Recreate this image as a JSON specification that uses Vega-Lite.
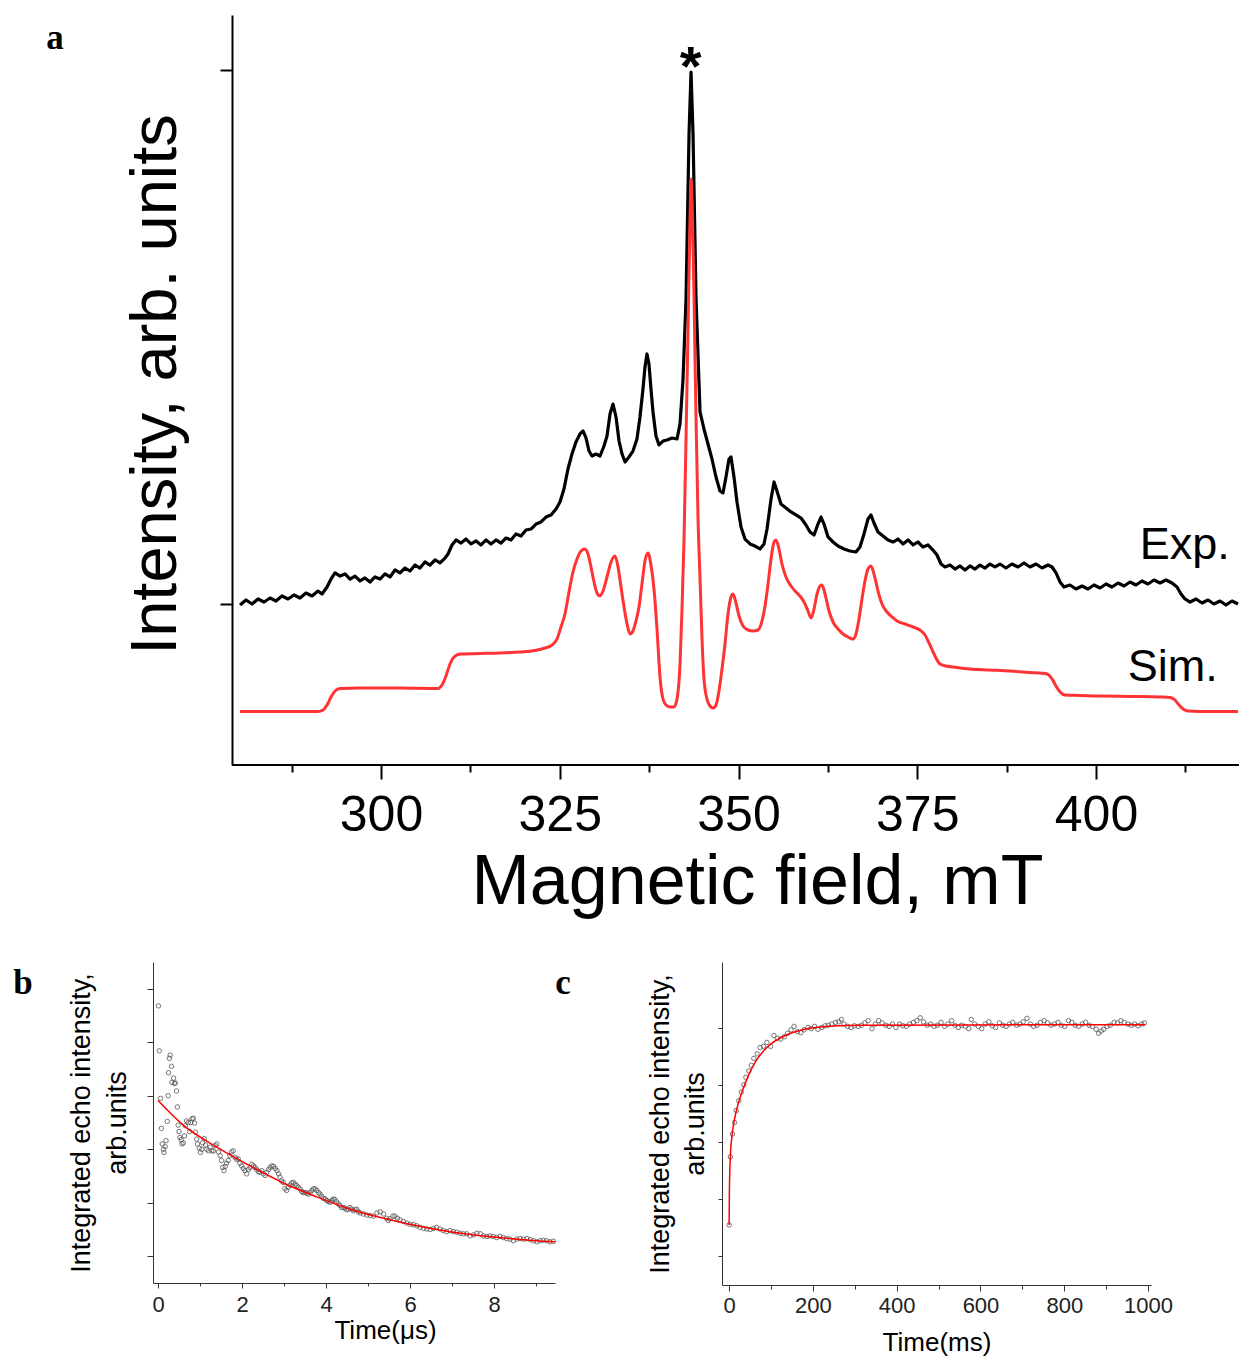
{
"$schema": "https://vega.github.io/schema/vega-lite/v6.json",
"background": "white",
"padding": {"left": 13, "top": 15, "right": 0, "bottom": 2},
"bounds": "flush",
"spacing": 197,
"datasets": {
"exp": [
{"B":280.28,"I":-0.19},{"B":281.12,"I":0.75},{"B":281.96,"I":0},{"B":282.80,"I":0.94},{"B":283.64,"I":0.37},{"B":284.48,"I":1.12},{"B":285.31,"I":0.56},{"B":286.15,"I":1.50},{"B":286.99,"I":0.94},{"B":287.83,"I":1.69},{"B":288.67,"I":1.12},{"B":289.51,"I":2.06},{"B":290.35,"I":1.50},{"B":291.19,"I":2.43},{"B":291.75,"I":1.87},{"B":292.45,"I":3.18},{"B":293.01,"I":4.68},{"B":293.57,"I":5.81},{"B":294.27,"I":5.24},{"B":294.97,"I":5.62},{"B":295.66,"I":4.68},{"B":296.36,"I":5.24},{"B":297.06,"I":4.31},{"B":297.76,"I":4.87},{"B":298.46,"I":4.12},{"B":299.16,"I":5.06},{"B":299.86,"I":4.68},{"B":300.56,"I":5.62},{"B":301.26,"I":5.06},{"B":301.96,"I":6.37},{"B":302.66,"I":5.81},{"B":303.36,"I":6.74},{"B":304.06,"I":6.18},{"B":304.76,"I":7.30},{"B":305.45,"I":6.74},{"B":306.15,"I":7.87},{"B":306.85,"I":7.30},{"B":307.55,"I":8.24},{"B":308.25,"I":7.68},{"B":308.95,"I":8.61},{"B":309.37,"I":9.36},{"B":309.93,"I":11.05},{"B":310.49,"I":11.99},{"B":311.19,"I":11.42},{"B":311.89,"I":12.17},{"B":312.59,"I":11.24},{"B":313.29,"I":11.80},{"B":313.99,"I":11.05},{"B":314.69,"I":11.99},{"B":315.38,"I":11.24},{"B":316.08,"I":11.99},{"B":316.78,"I":11.42},{"B":317.48,"I":12.36},{"B":318.18,"I":11.99},{"B":318.88,"I":13.11},{"B":319.58,"I":12.73},{"B":320.28,"I":13.86},{"B":320.98,"I":14.04},{"B":321.68,"I":14.98},{"B":322.38,"I":15.36},{"B":323.08,"I":16.29},{"B":323.78,"I":16.67},{"B":324.48,"I":17.79},{"B":325.03,"I":19.10},{"B":325.59,"I":21.54},{"B":326.15,"I":25.28},{"B":326.71,"I":28.09},{"B":327.27,"I":30.34},{"B":327.83,"I":31.84},{"B":328.25,"I":32.40},{"B":328.67,"I":31.09},{"B":329.09,"I":28.65},{"B":329.51,"I":27.72},{"B":330.07,"I":28.09},{"B":330.63,"I":27.72},{"B":331.19,"I":29.59},{"B":331.61,"I":31.46},{"B":332.03,"I":35.58},{"B":332.45,"I":37.45},{"B":332.87,"I":35.02},{"B":333.29,"I":30.52},{"B":333.71,"I":28.09},{"B":334.13,"I":26.59},{"B":334.69,"I":27.53},{"B":335.24,"I":28.65},{"B":335.80,"I":30.90},{"B":336.22,"I":35.02},{"B":336.64,"I":40.26},{"B":336.92,"I":44.38},{"B":337.20,"I":46.82},{"B":337.48,"I":44.94},{"B":337.76,"I":40.26},{"B":338.04,"I":35.96},{"B":338.46,"I":31.46},{"B":338.88,"I":29.78},{"B":339.44,"I":30.52},{"B":340.00,"I":30.71},{"B":340.70,"I":31.09},{"B":341.40,"I":30.90},{"B":341.82,"I":33.71},{"B":342.24,"I":42.13},{"B":342.66,"I":57.12},{"B":343.08,"I":88.01},{"B":343.36,"I":99.63},{"B":343.64,"I":88.01},{"B":344.06,"I":57.12},{"B":344.62,"I":35.96},{"B":345.17,"I":32.77},{"B":345.73,"I":29.96},{"B":346.29,"I":27.15},{"B":346.85,"I":23.78},{"B":347.41,"I":21.16},{"B":347.83,"I":20.79},{"B":348.25,"I":23.78},{"B":348.67,"I":27.15},{"B":348.95,"I":27.53},{"B":349.37,"I":23.78},{"B":349.79,"I":19.10},{"B":350.35,"I":14.42},{"B":350.91,"I":12.17},{"B":351.61,"I":11.24},{"B":352.31,"I":10.86},{"B":353.01,"I":10.30},{"B":353.57,"I":11.24},{"B":353.99,"I":14.04},{"B":354.55,"I":19.66},{"B":354.97,"I":22.85},{"B":355.38,"I":21.16},{"B":355.94,"I":18.73},{"B":356.64,"I":17.98},{"B":357.34,"I":17.23},{"B":358.04,"I":16.67},{"B":358.74,"I":16.10},{"B":359.44,"I":14.79},{"B":360.00,"I":13.48},{"B":360.56,"I":12.92},{"B":361.12,"I":14.98},{"B":361.54,"I":16.29},{"B":361.96,"I":14.98},{"B":362.52,"I":12.55},{"B":363.22,"I":11.61},{"B":363.92,"I":10.86},{"B":364.76,"I":10.30},{"B":365.59,"I":9.93},{"B":366.43,"I":9.74},{"B":366.99,"I":10.67},{"B":367.55,"I":13.11},{"B":368.11,"I":15.92},{"B":368.53,"I":16.67},{"B":368.95,"I":15.17},{"B":369.51,"I":13.48},{"B":370.21,"I":12.73},{"B":370.91,"I":11.99},{"B":371.61,"I":11.61},{"B":372.31,"I":12.17},{"B":373.01,"I":11.24},{"B":373.71,"I":11.99},{"B":374.41,"I":11.05},{"B":375.10,"I":11.61},{"B":375.80,"I":10.67},{"B":376.50,"I":11.05},{"B":377.20,"I":10.11},{"B":377.76,"I":9.18},{"B":378.32,"I":7.49},{"B":378.88,"I":6.93},{"B":379.58,"I":7.30},{"B":380.28,"I":6.55},{"B":380.98,"I":7.12},{"B":381.68,"I":6.37},{"B":382.38,"I":7.12},{"B":383.08,"I":6.55},{"B":383.78,"I":7.30},{"B":384.48,"I":6.74},{"B":385.17,"I":7.49},{"B":385.87,"I":6.93},{"B":386.57,"I":7.49},{"B":387.41,"I":6.74},{"B":388.25,"I":7.49},{"B":389.09,"I":6.93},{"B":389.93,"I":7.68},{"B":390.77,"I":6.93},{"B":391.61,"I":7.49},{"B":392.45,"I":6.74},{"B":393.29,"I":7.30},{"B":393.85,"I":6.93},{"B":394.41,"I":5.81},{"B":394.97,"I":4.12},{"B":395.52,"I":3.18},{"B":396.36,"I":3.56},{"B":397.20,"I":2.81},{"B":398.04,"I":3.37},{"B":398.88,"I":2.81},{"B":399.72,"I":3.56},{"B":400.56,"I":3.00},{"B":401.40,"I":3.75},{"B":402.24,"I":3.18},{"B":403.08,"I":3.93},{"B":403.92,"I":3.37},{"B":404.76,"I":4.12},{"B":405.59,"I":3.56},{"B":406.43,"I":4.31},{"B":407.27,"I":3.75},{"B":408.11,"I":4.49},{"B":408.95,"I":3.93},{"B":409.79,"I":4.49},{"B":410.63,"I":3.93},{"B":411.33,"I":3.18},{"B":411.89,"I":1.87},{"B":412.45,"I":0.94},{"B":413.15,"I":0.37},{"B":413.99,"I":0.94},{"B":414.83,"I":0.19},{"B":415.66,"I":0.75},{"B":416.50,"I":0},{"B":417.34,"I":0.56},{"B":418.18,"I":-0.19},{"B":419.02,"I":0.56},{"B":419.86,"I":0}
],
"sim": [
{"B":280.28,"I":-20.13},{"B":285.87,"I":-20.13},{"B":291.19,"I":-20.13},{"B":291.89,"I":-19.85},{"B":292.45,"I":-18.91},{"B":293.01,"I":-17.42},{"B":293.57,"I":-16.29},{"B":294.27,"I":-15.82},{"B":297.06,"I":-15.73},{"B":302.66,"I":-15.73},{"B":307.97,"I":-15.82},{"B":308.53,"I":-15.17},{"B":309.09,"I":-13.48},{"B":309.65,"I":-11.24},{"B":310.21,"I":-9.93},{"B":311.05,"I":-9.36},{"B":313.85,"I":-9.27},{"B":316.64,"I":-9.18},{"B":319.44,"I":-8.99},{"B":321.54,"I":-8.71},{"B":322.94,"I":-8.24},{"B":323.92,"I":-7.68},{"B":324.62,"I":-6.55},{"B":325.17,"I":-4.31},{"B":325.73,"I":-1.87},{"B":326.29,"I":2.25},{"B":326.85,"I":5.99},{"B":327.41,"I":8.43},{"B":327.97,"I":9.93},{"B":328.53,"I":10.30},{"B":328.95,"I":9.36},{"B":329.37,"I":6.93},{"B":329.79,"I":4.12},{"B":330.21,"I":2.06},{"B":330.63,"I":1.50},{"B":331.05,"I":2.43},{"B":331.61,"I":5.06},{"B":332.17,"I":7.87},{"B":332.73,"I":8.99},{"B":333.15,"I":6.93},{"B":333.57,"I":3.18},{"B":333.99,"I":-0.56},{"B":334.41,"I":-3.75},{"B":334.83,"I":-5.62},{"B":335.24,"I":-5.06},{"B":335.66,"I":-3.18},{"B":336.08,"I":-0.56},{"B":336.50,"I":3.75},{"B":336.92,"I":8.05},{"B":337.34,"I":9.55},{"B":337.76,"I":7.30},{"B":338.18,"I":2.81},{"B":338.60,"I":-4.68},{"B":339.02,"I":-13.67},{"B":339.44,"I":-17.79},{"B":339.86,"I":-18.91},{"B":340.42,"I":-19.29},{"B":340.98,"I":-19.29},{"B":341.40,"I":-17.79},{"B":341.82,"I":-11.24},{"B":342.10,"I":-0.94},{"B":342.38,"I":12.17},{"B":342.66,"I":30.90},{"B":342.94,"I":51.50},{"B":343.22,"I":72.10},{"B":343.36,"I":79.59},{"B":343.50,"I":75.84},{"B":343.78,"I":57.12},{"B":344.06,"I":34.64},{"B":344.34,"I":15.92},{"B":344.62,"I":4.68},{"B":344.90,"I":-6.55},{"B":345.17,"I":-14.04},{"B":345.59,"I":-17.79},{"B":346.01,"I":-19.10},{"B":346.43,"I":-19.48},{"B":346.85,"I":-18.91},{"B":347.27,"I":-16.29},{"B":347.69,"I":-12.17},{"B":348.11,"I":-7.49},{"B":348.53,"I":-1.87},{"B":348.95,"I":1.31},{"B":349.23,"I":1.87},{"B":349.65,"I":0.19},{"B":350.07,"I":-2.25},{"B":350.63,"I":-4.12},{"B":351.33,"I":-4.87},{"B":352.03,"I":-5.06},{"B":352.73,"I":-4.87},{"B":353.29,"I":-3.18},{"B":353.71,"I":-0.37},{"B":354.13,"I":3.75},{"B":354.55,"I":8.43},{"B":354.97,"I":11.61},{"B":355.24,"I":11.99},{"B":355.66,"I":10.30},{"B":356.08,"I":7.49},{"B":356.64,"I":5.06},{"B":357.34,"I":3.37},{"B":358.04,"I":2.25},{"B":358.60,"I":1.50},{"B":359.16,"I":0.37},{"B":359.72,"I":-1.31},{"B":360.14,"I":-2.62},{"B":360.56,"I":-0.94},{"B":360.98,"I":1.87},{"B":361.40,"I":3.37},{"B":361.68,"I":3.56},{"B":362.10,"I":1.87},{"B":362.66,"I":-1.31},{"B":363.22,"I":-3.37},{"B":363.92,"I":-4.68},{"B":364.62,"I":-5.62},{"B":365.31,"I":-6.18},{"B":366.01,"I":-6.55},{"B":366.43,"I":-5.62},{"B":366.85,"I":-2.81},{"B":367.27,"I":0.94},{"B":367.69,"I":4.31},{"B":368.11,"I":6.55},{"B":368.53,"I":7.12},{"B":368.95,"I":5.62},{"B":369.51,"I":2.43},{"B":370.07,"I":0},{"B":370.77,"I":-1.50},{"B":371.47,"I":-2.43},{"B":372.17,"I":-3.18},{"B":373.29,"I":-3.75},{"B":374.41,"I":-4.31},{"B":375.38,"I":-4.87},{"B":376.08,"I":-5.81},{"B":376.78,"I":-7.68},{"B":377.48,"I":-9.74},{"B":378.18,"I":-11.24},{"B":379.02,"I":-11.61},{"B":380.00,"I":-11.80},{"B":382.38,"I":-12.17},{"B":385.17,"I":-12.36},{"B":387.97,"I":-12.55},{"B":390.77,"I":-12.83},{"B":393.15,"I":-13.11},{"B":393.85,"I":-14.04},{"B":394.41,"I":-15.36},{"B":394.97,"I":-16.48},{"B":395.66,"I":-17.04},{"B":397.76,"I":-17.13},{"B":400.56,"I":-17.23},{"B":404.76,"I":-17.32},{"B":408.95,"I":-17.42},{"B":410.35,"I":-17.51},{"B":411.05,"I":-17.98},{"B":411.61,"I":-18.91},{"B":412.17,"I":-19.66},{"B":412.87,"I":-20.04},{"B":414.55,"I":-20.13},{"B":419.86,"I":-20.13}
],
"echoT2": [
{"t":0.01,"s":5.68},{"t":0.03,"s":4.84},{"t":0.06,"s":3.95},{"t":0.08,"s":3.39},{"t":0.10,"s":3.10},{"t":0.13,"s":3.00},{"t":0.14,"s":2.94},{"t":0.17,"s":3.05},{"t":0.19,"s":3.16},{"t":0.22,"s":3.52},{"t":0.24,"s":4.00},{"t":0.25,"s":4.43},{"t":0.27,"s":4.70},{"t":0.29,"s":4.76},{"t":0.32,"s":4.55},{"t":0.33,"s":4.25},{"t":0.37,"s":4.33},{"t":0.39,"s":4.23},{"t":0.41,"s":4.24},{"t":0.44,"s":4.09},{"t":0.46,"s":3.79},{"t":0.48,"s":3.45},{"t":0.50,"s":3.33},{"t":0.52,"s":3.22},{"t":0.55,"s":3.18},{"t":0.57,"s":3.10},{"t":0.60,"s":3.12},{"t":0.63,"s":3.25},{"t":0.65,"s":3.44},{"t":0.68,"s":3.53},{"t":0.72,"s":3.50},{"t":0.75,"s":3.33},{"t":0.78,"s":3.50},{"t":0.81,"s":3.57},{"t":0.84,"s":3.58},{"t":0.87,"s":3.49},{"t":0.89,"s":3.32},{"t":0.92,"s":3.19},{"t":0.94,"s":3.10},{"t":0.98,"s":3.02},{"t":1.01,"s":2.94},{"t":1.04,"s":3.00},{"t":1.06,"s":3.12},{"t":1.10,"s":3.20},{"t":1.13,"s":3.08},{"t":1.16,"s":3.00},{"t":1.20,"s":2.97},{"t":1.24,"s":3.04},{"t":1.28,"s":2.97},{"t":1.32,"s":2.97},{"t":1.36,"s":3.07},{"t":1.40,"s":3.10},{"t":1.44,"s":2.95},{"t":1.48,"s":2.88},{"t":1.51,"s":2.79},{"t":1.54,"s":2.66},{"t":1.57,"s":2.60},{"t":1.60,"s":2.68},{"t":1.63,"s":2.74},{"t":1.67,"s":2.79},{"t":1.71,"s":2.88},{"t":1.75,"s":2.95},{"t":1.79,"s":2.97},{"t":1.83,"s":2.85},{"t":1.87,"s":2.81},{"t":1.91,"s":2.82},{"t":1.95,"s":2.74},{"t":1.99,"s":2.69},{"t":2.03,"s":2.64},{"t":2.07,"s":2.60},{"t":2.11,"s":2.54},{"t":2.15,"s":2.62},{"t":2.19,"s":2.66},{"t":2.23,"s":2.72},{"t":2.27,"s":2.69},{"t":2.31,"s":2.66},{"t":2.35,"s":2.62},{"t":2.39,"s":2.58},{"t":2.43,"s":2.57},{"t":2.47,"s":2.60},{"t":2.51,"s":2.54},{"t":2.55,"s":2.51},{"t":2.59,"s":2.57},{"t":2.63,"s":2.62},{"t":2.67,"s":2.66},{"t":2.71,"s":2.69},{"t":2.75,"s":2.68},{"t":2.79,"s":2.64},{"t":2.83,"s":2.60},{"t":2.87,"s":2.54},{"t":2.90,"s":2.48},{"t":2.94,"s":2.41},{"t":2.98,"s":2.38},{"t":3.02,"s":2.26},{"t":3.06,"s":2.23},{"t":3.10,"s":2.29},{"t":3.14,"s":2.33},{"t":3.18,"s":2.37},{"t":3.22,"s":2.38},{"t":3.26,"s":2.35},{"t":3.30,"s":2.32},{"t":3.34,"s":2.29},{"t":3.38,"s":2.26},{"t":3.42,"s":2.21},{"t":3.46,"s":2.19},{"t":3.50,"s":2.19},{"t":3.54,"s":2.18},{"t":3.58,"s":2.16},{"t":3.62,"s":2.19},{"t":3.66,"s":2.23},{"t":3.70,"s":2.26},{"t":3.74,"s":2.26},{"t":3.78,"s":2.23},{"t":3.82,"s":2.19},{"t":3.86,"s":2.16},{"t":3.90,"s":2.12},{"t":3.94,"s":2.08},{"t":3.98,"s":2.07},{"t":4.02,"s":2.04},{"t":4.06,"s":2.02},{"t":4.10,"s":2.01},{"t":4.14,"s":2.04},{"t":4.17,"s":2.07},{"t":4.21,"s":2.06},{"t":4.25,"s":2.02},{"t":4.29,"s":1.98},{"t":4.33,"s":1.95},{"t":4.37,"s":1.91},{"t":4.41,"s":1.91},{"t":4.45,"s":1.90},{"t":4.49,"s":1.87},{"t":4.53,"s":1.88},{"t":4.57,"s":1.91},{"t":4.61,"s":1.88},{"t":4.65,"s":1.85},{"t":4.69,"s":1.87},{"t":4.73,"s":1.88},{"t":4.77,"s":1.83},{"t":4.81,"s":1.81},{"t":4.89,"s":1.79},{"t":4.97,"s":1.77},{"t":5.05,"s":1.76},{"t":5.13,"s":1.75},{"t":5.21,"s":1.81},{"t":5.29,"s":1.83},{"t":5.37,"s":1.79},{"t":5.44,"s":1.71},{"t":5.48,"s":1.67},{"t":5.52,"s":1.70},{"t":5.59,"s":1.75},{"t":5.64,"s":1.75},{"t":5.70,"s":1.71},{"t":5.76,"s":1.68},{"t":5.84,"s":1.65},{"t":5.92,"s":1.62},{"t":6.00,"s":1.60},{"t":6.08,"s":1.59},{"t":6.16,"s":1.57},{"t":6.24,"s":1.54},{"t":6.32,"s":1.52},{"t":6.40,"s":1.51},{"t":6.48,"s":1.50},{"t":6.56,"s":1.52},{"t":6.63,"s":1.54},{"t":6.71,"s":1.51},{"t":6.79,"s":1.48},{"t":6.87,"s":1.46},{"t":6.95,"s":1.48},{"t":7.03,"s":1.46},{"t":7.11,"s":1.45},{"t":7.19,"s":1.43},{"t":7.27,"s":1.42},{"t":7.35,"s":1.42},{"t":7.43,"s":1.38},{"t":7.51,"s":1.40},{"t":7.59,"s":1.43},{"t":7.67,"s":1.42},{"t":7.75,"s":1.38},{"t":7.83,"s":1.37},{"t":7.90,"s":1.38},{"t":7.98,"s":1.37},{"t":8.06,"s":1.35},{"t":8.14,"s":1.37},{"t":8.22,"s":1.35},{"t":8.30,"s":1.33},{"t":8.38,"s":1.32},{"t":8.46,"s":1.29},{"t":8.54,"s":1.32},{"t":8.62,"s":1.33},{"t":8.70,"s":1.32},{"t":8.78,"s":1.33},{"t":8.86,"s":1.31},{"t":8.94,"s":1.29},{"t":9.02,"s":1.27},{"t":9.10,"s":1.29},{"t":9.17,"s":1.30},{"t":9.25,"s":1.29},{"t":9.33,"s":1.27},{"t":9.41,"s":1.28}
],
"fitT2": [
{"t":0.0,"s":3.91},{"t":0.60,"s":3.45},{"t":1.40,"s":3.04},{"t":2.19,"s":2.69},{"t":2.98,"s":2.37},{"t":3.78,"s":2.11},{"t":4.57,"s":1.88},{"t":5.37,"s":1.71},{"t":6.16,"s":1.57},{"t":6.95,"s":1.46},{"t":7.75,"s":1.38},{"t":8.54,"s":1.32},{"t":9.45,"s":1.27}
],
"echoT1": [
{"t":0,"s":1.05},{"t":3,"s":2.24},{"t":8,"s":2.64},{"t":13,"s":2.84},{"t":17,"s":3.05},{"t":23,"s":3.22},{"t":29,"s":3.37},{"t":35,"s":3.50},{"t":40,"s":3.63},{"t":47,"s":3.74},{"t":53,"s":3.84},{"t":59,"s":3.96},{"t":67,"s":4.04},{"t":74,"s":4.15},{"t":82,"s":4.17},{"t":90,"s":4.24},{"t":99,"s":4.17},{"t":107,"s":4.36},{"t":115,"s":4.31},{"t":123,"s":4.30},{"t":132,"s":4.34},{"t":140,"s":4.40},{"t":148,"s":4.46},{"t":155,"s":4.52},{"t":163,"s":4.43},{"t":171,"s":4.41},{"t":179,"s":4.46},{"t":188,"s":4.50},{"t":196,"s":4.48},{"t":204,"s":4.52},{"t":212,"s":4.47},{"t":221,"s":4.50},{"t":229,"s":4.53},{"t":237,"s":4.54},{"t":245,"s":4.56},{"t":254,"s":4.59},{"t":262,"s":4.60},{"t":268,"s":4.64},{"t":274,"s":4.56},{"t":283,"s":4.52},{"t":291,"s":4.50},{"t":299,"s":4.53},{"t":308,"s":4.52},{"t":316,"s":4.54},{"t":324,"s":4.58},{"t":332,"s":4.62},{"t":341,"s":4.48},{"t":349,"s":4.56},{"t":357,"s":4.62},{"t":365,"s":4.58},{"t":374,"s":4.54},{"t":382,"s":4.52},{"t":390,"s":4.56},{"t":398,"s":4.50},{"t":407,"s":4.56},{"t":415,"s":4.53},{"t":423,"s":4.52},{"t":431,"s":4.56},{"t":440,"s":4.59},{"t":448,"s":4.62},{"t":456,"s":4.67},{"t":464,"s":4.60},{"t":473,"s":4.54},{"t":481,"s":4.56},{"t":489,"s":4.52},{"t":497,"s":4.54},{"t":506,"s":4.59},{"t":514,"s":4.52},{"t":522,"s":4.56},{"t":531,"s":4.62},{"t":539,"s":4.54},{"t":547,"s":4.50},{"t":555,"s":4.54},{"t":564,"s":4.52},{"t":572,"s":4.48},{"t":578,"s":4.64},{"t":586,"s":4.56},{"t":595,"s":4.52},{"t":603,"s":4.48},{"t":611,"s":4.56},{"t":620,"s":4.60},{"t":628,"s":4.53},{"t":636,"s":4.50},{"t":645,"s":4.58},{"t":653,"s":4.54},{"t":661,"s":4.52},{"t":669,"s":4.56},{"t":677,"s":4.59},{"t":686,"s":4.54},{"t":694,"s":4.56},{"t":702,"s":4.60},{"t":711,"s":4.66},{"t":719,"s":4.56},{"t":727,"s":4.52},{"t":735,"s":4.54},{"t":743,"s":4.59},{"t":752,"s":4.62},{"t":760,"s":4.58},{"t":768,"s":4.54},{"t":777,"s":4.56},{"t":785,"s":4.59},{"t":793,"s":4.54},{"t":801,"s":4.52},{"t":810,"s":4.62},{"t":818,"s":4.59},{"t":826,"s":4.54},{"t":834,"s":4.52},{"t":843,"s":4.56},{"t":851,"s":4.59},{"t":859,"s":4.54},{"t":867,"s":4.52},{"t":876,"s":4.47},{"t":882,"s":4.40},{"t":888,"s":4.44},{"t":894,"s":4.47},{"t":902,"s":4.52},{"t":910,"s":4.54},{"t":919,"s":4.59},{"t":927,"s":4.58},{"t":935,"s":4.62},{"t":943,"s":4.59},{"t":952,"s":4.56},{"t":960,"s":4.54},{"t":968,"s":4.56},{"t":976,"s":4.53},{"t":985,"s":4.56},{"t":991,"s":4.58}
],
"fitT1": [
{"t":0,"s":1.05},{"t":0.6,"s":1.62},{"t":3,"s":2.26},{"t":6,"s":2.55},{"t":10,"s":2.78},{"t":18,"s":3.07},{"t":31,"s":3.38},{"t":46,"s":3.66},{"t":62,"s":3.89},{"t":82,"s":4.09},{"t":103,"s":4.23},{"t":134,"s":4.36},{"t":175,"s":4.46},{"t":237,"s":4.52},{"t":320,"s":4.54},{"t":993,"s":4.55}
]
},
"vconcat": [
{
"width": 1086,
"height": 750,
"layer": [
{"data": {"name": "exp"}, "mark": {"type": "line", "color": "#000000", "strokeWidth": 3.2, "strokeJoin": "round"},
"encoding": {
"x": {"field": "B", "type": "quantitative",
"scale": {"domain": [268.11, 420], "nice": false, "zero": false},
"axis": {"values": [287.5,300,312.5,325,337.5,350,362.5,375,387.5,400,412.5], "format": "d", "domain": false,
"tickSize": {"expr": "datum.value % 25 === 0 ? 14 : 7"}, "tickWidth": 2,
"labelExpr": "datum.value % 25 === 0 ? datum.label : ''", "labelOverlap": false,
"labelFontSize": 50, "labelPadding": 11,
"title": "Magnetic field, mT", "titleFontSize": 70, "titlePadding": 8, "titleX": 604}},
"y": {"field": "I", "type": "quantitative",
"scale": {"domain": [-30.15, 110.3], "nice": false, "zero": false},
"axis": {"values": [0, 100], "labels": false, "tickSize": 12, "tickWidth": 2, "domainWidth": 2, "offset": -79,
"title": "Intensity, arb. units", "titleFontSize": 65, "titlePadding": 30, "titleY": 369}}
}},
{"data": {"name": "sim"}, "mark": {"type": "line", "color": "#ff3333", "strokeWidth": 3, "interpolate": "monotone"},
"encoding": {"x": {"field": "B", "type": "quantitative"}, "y": {"field": "I", "type": "quantitative"}}},
{"data": {"values": [{"from": 279.16, "to": 420, "base": -30.15}]}, "mark": {"type": "rule", "color": "#000000", "strokeWidth": 2},
"encoding": {"x": {"field": "from", "type": "quantitative"}, "x2": {"field": "to"}, "y": {"field": "base", "type": "quantitative"}}},
{"data": {"values": [{"lab": "Exp.", "B": 412.41, "I": 8.43}, {"lab": "Sim.", "B": 410.73, "I": -14.42}]},
"mark": {"type": "text", "fontSize": 45, "font": "Liberation Sans", "align": "center", "baseline": "alphabetic", "color": "#000000"},
"encoding": {"x": {"field": "B", "type": "quantitative"}, "y": {"field": "I", "type": "quantitative"}, "text": {"field": "lab", "type": "nominal"}}},
{"data": {"values": [{"lab": "*", "B": 343.3, "I": 97.2}]},
"mark": {"type": "text", "fontSize": 56, "fontWeight": "bold", "font": "Liberation Sans", "align": "center", "baseline": "alphabetic", "color": "#000000"},
"encoding": {"x": {"field": "B", "type": "quantitative"}, "y": {"field": "I", "type": "quantitative"}, "text": {"field": "lab", "type": "nominal"}}},
{"data": {"values": [{"lab": "a", "B": 254.41, "I": 103.93}]},
"mark": {"type": "text", "fontSize": 35, "fontWeight": "bold", "font": "Liberation Serif", "align": "center", "baseline": "alphabetic", "color": "#000000"},
"encoding": {"x": {"field": "B", "type": "quantitative"}, "y": {"field": "I", "type": "quantitative"}, "text": {"field": "lab", "type": "nominal"}}}
]
},
{
"hconcat": [
{
"width": 402,
"height": 321,
"layer": [
{"data": {"name": "echoT2"}, "mark": {"type": "point", "shape": "circle", "filled": false, "size": 20, "strokeWidth": 0.8, "color": "#555555", "opacity": 1},
"encoding": {
"x": {"field": "t", "type": "quantitative",
"scale": {"domain": [-0.12, 9.45], "nice": false, "zero": false},
"axis": {"values": [0,1,2,3,4,5,6,7,8,9], "format": "d",
"tickSize": {"expr": "datum.value % 2 === 0 ? 5 : 3"},
"labelExpr": "datum.value % 2 === 0 ? datum.label : ''", "labelOverlap": false,
"labelFontSize": 22, "labelPadding": 6, "labelColor": "#222222",
"domainColor": "#333333", "tickColor": "#333333",
"title": "Time(μs)", "titleFontSize": 26, "titlePadding": 2, "titleX": 232}},
"y": {"field": "s", "type": "quantitative",
"scale": {"domain": [0.5, 6.5], "nice": false, "zero": false},
"axis": {"values": [1,1.5,2,2.5,3,3.5,4,4.5,5,5.5,6], "labels": false,
"tickSize": {"expr": "datum.value % 1 === 0 ? 6 : 4"},
"domainColor": "#333333", "tickColor": "#333333",
"title": ["Integrated echo intensity,", "arb.units"], "titleFontSize": 27, "titleLineHeight": 36, "titlePadding": 15}}
}},
{"data": {"name": "fitT2"}, "mark": {"type": "line", "color": "#ff0000", "strokeWidth": 1.5, "interpolate": "monotone"},
"encoding": {"x": {"field": "t", "type": "quantitative"}, "y": {"field": "s", "type": "quantitative"}}},
{"data": {"values": [{"lab": "b", "t": -3.215, "s": 5.9}]},
"mark": {"type": "text", "fontSize": 35, "fontWeight": "bold", "font": "Liberation Serif", "align": "center", "baseline": "alphabetic", "color": "#000000"},
"encoding": {"x": {"field": "t", "type": "quantitative"}, "y": {"field": "s", "type": "quantitative"}, "text": {"field": "lab", "type": "nominal"}}}
]
},
{
"width": 429,
"height": 323,
"layer": [
{"data": {"name": "echoT1"}, "mark": {"type": "point", "shape": "circle", "filled": false, "size": 20, "strokeWidth": 0.8, "color": "#555555", "opacity": 1},
"encoding": {
"x": {"field": "t", "type": "quantitative",
"scale": {"domain": [-17, 1007], "nice": false, "zero": false},
"axis": {"values": [0,100,200,300,400,500,600,700,800,900,1000], "format": "d",
"tickSize": {"expr": "datum.value % 200 === 0 ? 6 : 4"},
"labelExpr": "datum.value % 200 === 0 ? datum.label : ''", "labelOverlap": false,
"labelFontSize": 22, "labelPadding": 4, "labelColor": "#222222",
"domainColor": "#333333", "tickColor": "#333333",
"title": "Time(ms)", "titleFontSize": 26, "titlePadding": 13}},
"y": {"field": "s", "type": "quantitative",
"scale": {"domain": [0, 5.645], "nice": false, "zero": false},
"axis": {"values": [0.5,1,1.5,2,2.5,3,3.5,4,4.5,5], "labels": false,
"tickSize": {"expr": "datum.value % 1 === 0 ? 6 : 4"},
"domainColor": "#333333", "tickColor": "#333333",
"title": ["Integrated echo intensity,", "arb.units"], "titleFontSize": 27, "titleLineHeight": 35, "titlePadding": 8}}
}},
{"data": {"name": "fitT1"}, "mark": {"type": "line", "color": "#ff0000", "strokeWidth": 1.5, "interpolate": "monotone"},
"encoding": {"x": {"field": "t", "type": "quantitative"}, "y": {"field": "s", "type": "quantitative"}}},
{"data": {"values": [{"lab": "c", "t": -396.5, "s": 5.09}]},
"mark": {"type": "text", "fontSize": 35, "fontWeight": "bold", "font": "Liberation Serif", "align": "center", "baseline": "alphabetic", "color": "#000000"},
"encoding": {"x": {"field": "t", "type": "quantitative"}, "y": {"field": "s", "type": "quantitative"}, "text": {"field": "lab", "type": "nominal"}}}
]
}
],
"spacing": 167,
"bounds": "flush"
}
],
"config": {
"view": {"stroke": null},
"axis": {"grid": false, "labelFont": "Liberation Sans", "titleFont": "Liberation Sans", "titleFontWeight": "normal",
"labelColor": "#000000", "titleColor": "#000000", "domainColor": "#000000", "tickColor": "#000000"}
}
}
